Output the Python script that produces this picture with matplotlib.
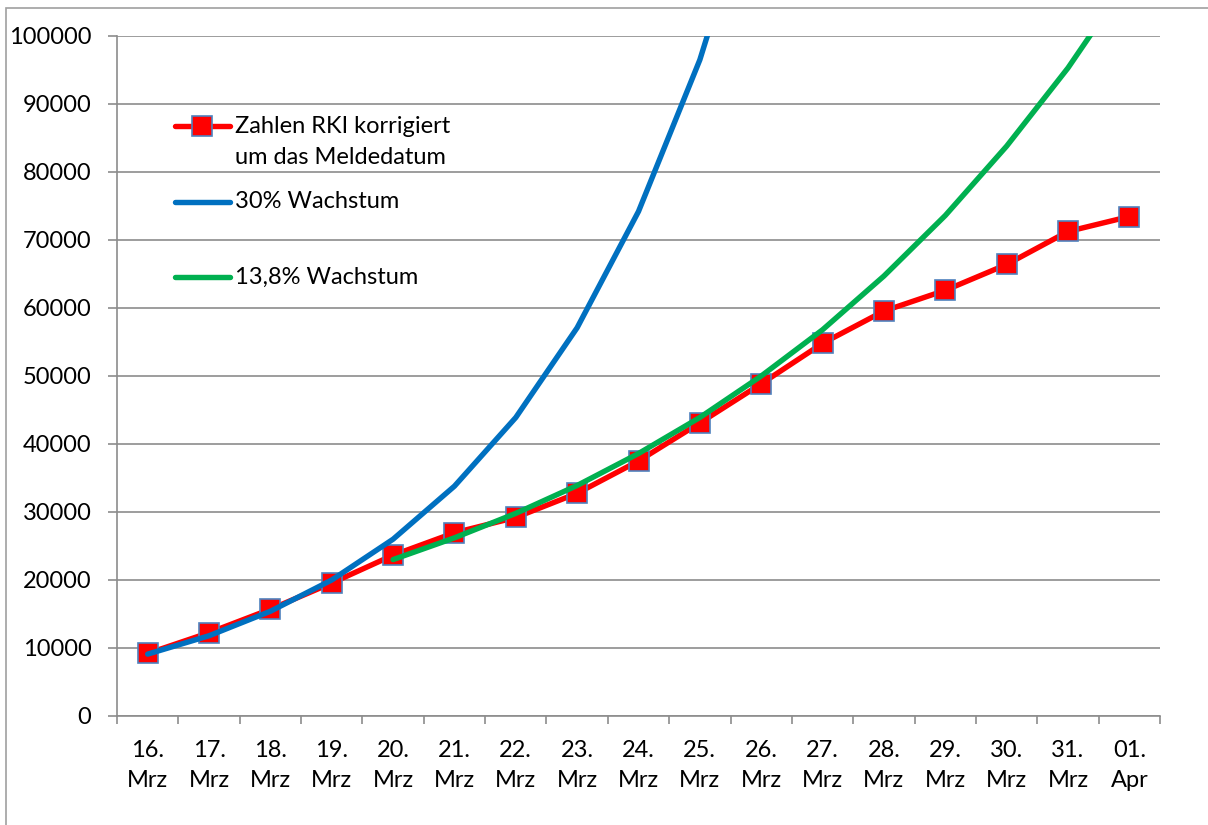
import matplotlib.pyplot as plt
from matplotlib.lines import Line2D
from matplotlib.patches import Rectangle
import numpy as np

plt.rcParams['font.family'] = ['Lato', 'DejaVu Sans']

days = ['16.\nMrz', '17.\nMrz', '18.\nMrz', '19.\nMrz', '20.\nMrz', '21.\nMrz',
        '22.\nMrz', '23.\nMrz', '24.\nMrz', '25.\nMrz', '26.\nMrz', '27.\nMrz',
        '28.\nMrz', '29.\nMrz', '30.\nMrz', '31.\nMrz', '01.\nApr']

# RKI case counts, corrected by reporting date
rki_cases = [9200, 12250, 15700, 19550, 23650, 26950, 29200, 32750, 37500,
             43100, 48850, 54800, 59550, 62600, 66400, 71250, 73450]

# 30% daily growth from 16 Mar (runs off the top after 25 Mar)
growth_30 = [9100, 11800, 15400, 20000, 26000, 33800, 43900, 57100, 74200,
             96500, 125500]

# 13.8% daily growth from 20 Mar
growth_138_start = 4
growth_138 = [23000, 26200, 29800, 33900, 38600, 43900, 50000, 56800, 64700,
              73600, 83800, 95300, 108500]

RED = '#FF0000'
BLUE = '#0070C0'
GREEN = '#00B050'
EDGE = '#4F81BD'
GRID = '#8C8C8C'
FS = 17
LW = 3.9
MS = 14.5

fig = plt.figure(figsize=(12.08, 8.25), dpi=100)
ax = fig.add_axes([117 / 1208, 109 / 825, 1043 / 1208, 680 / 825])

x = np.arange(len(days))
ax.plot(x, rki_cases, color=RED, lw=LW, marker='s', markersize=MS,
        markerfacecolor=RED, markeredgecolor=EDGE, markeredgewidth=1.2,
        zorder=3, solid_joinstyle='round')
ax.plot(x[:len(growth_30)], growth_30, color=BLUE, lw=LW, zorder=4,
        solid_joinstyle='round', solid_capstyle='round')
x_green = x[growth_138_start:growth_138_start + len(growth_138)]
ax.plot(x_green, growth_138, color=GREEN, lw=LW, zorder=5,
        solid_joinstyle='round', solid_capstyle='round')

ax.set_xlim(-0.5, len(days) - 0.5)
ax.set_ylim(0, 100000)
ax.set_yticks(np.arange(0, 100001, 10000))
ax.yaxis.grid(True, color=GRID, lw=1.2)
ax.set_axisbelow(True)

# category boundaries carry the tick marks, centres carry the labels
ax.set_xticks(np.arange(-0.5, len(days), 1.0))
ax.set_xticklabels([])
ax.set_xticks(x, minor=True)
ax.set_xticklabels(days, minor=True, fontsize=FS, linespacing=1.55)
ax.tick_params(axis='x', which='major', length=6, width=1.2, color=GRID)
ax.tick_params(axis='x', which='minor', length=0, pad=17)
ax.tick_params(axis='y', length=6.5, width=1.2, color=GRID, pad=12,
               labelsize=FS)

for side in ['top', 'right']:
    ax.spines[side].set_visible(False)
for side in ['left', 'bottom']:
    ax.spines[side].set_color(GRID)
    ax.spines[side].set_linewidth(1.2)

# legend keys
hx = [0.0556, 0.1083]
tx = 0.1131
key_y = [0.8676, 0.7559, 0.6456]
ax.add_line(Line2D(hx, [key_y[0]] * 2, transform=ax.transAxes, color=RED,
                   lw=LW, solid_capstyle='round', zorder=6))
ax.add_line(Line2D([sum(hx) / 2], [key_y[0]], transform=ax.transAxes,
                   marker='s', markersize=MS, markerfacecolor=RED,
                   markeredgecolor=EDGE, markeredgewidth=1.2, zorder=7))
ax.add_line(Line2D(hx, [key_y[1]] * 2, transform=ax.transAxes, color=BLUE,
                   lw=LW, solid_capstyle='round', zorder=6))
ax.add_line(Line2D(hx, [key_y[2]] * 2, transform=ax.transAxes, color=GREEN,
                   lw=LW, solid_capstyle='round', zorder=6))
ax.text(tx, key_y[0], 'Zahlen RKI korrigiert', transform=ax.transAxes,
        fontsize=FS, va='center', ha='left')
ax.text(tx, key_y[0] - 31 / 680, 'um das Meldedatum', transform=ax.transAxes,
        fontsize=FS, va='center', ha='left')
ax.text(tx, key_y[1], '30% Wachstum', transform=ax.transAxes,
        fontsize=FS, va='center', ha='left')
ax.text(tx, key_y[2], '13,8% Wachstum', transform=ax.transAxes,
        fontsize=FS, va='center', ha='left')

# chart frame
fig.patches.append(Rectangle((6 / 1208, -0.05), 1.2, 1.05 - 8 / 825,
                             transform=fig.transFigure, fill=False,
                             edgecolor='#A0A0A0', lw=1.2))

fig.savefig('out.png', dpi=100)
